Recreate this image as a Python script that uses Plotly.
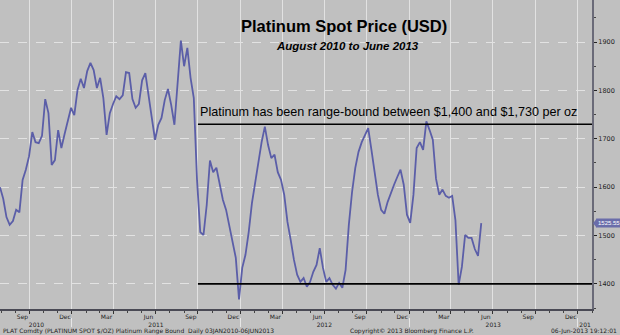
import pandas as pd
import plotly.graph_objects as go

# Weekly platinum spot closes (USD/oz), Thursdays from 29 Jul 2010 to 06 Jun 2013
start_date = "2010-07-29"
weekly_close = [
    1600, 1576, 1538, 1522, 1530, 1553, 1548, 1615, 1636, 1664,
    1714, 1693, 1691, 1706, 1782, 1753, 1646, 1656, 1718, 1681,
    1710, 1735, 1764, 1749, 1801, 1824, 1805, 1840, 1857, 1842,
    1805, 1826, 1784, 1708, 1753, 1772, 1788, 1782, 1790, 1838,
    1836, 1782, 1764, 1772, 1821, 1836, 1784, 1743, 1698, 1729,
    1743, 1780, 1803, 1770, 1729, 1821, 1903, 1850, 1888, 1826,
    1784, 1615, 1507, 1501, 1563, 1655, 1631, 1640, 1605, 1574,
    1553, 1522, 1491, 1454, 1368, 1433, 1460, 1507, 1567, 1609,
    1648, 1693, 1725, 1687, 1660, 1667, 1631, 1615, 1584, 1528,
    1491, 1450, 1419, 1404, 1412, 1394, 1404, 1425, 1439, 1474,
    1433, 1404, 1412, 1398, 1390, 1402, 1392, 1429, 1522, 1590,
    1640, 1673, 1693, 1706, 1722, 1677, 1625, 1584, 1553, 1545,
    1569, 1588, 1605, 1621, 1636, 1605, 1543, 1526, 1584, 1681,
    1693, 1677, 1736, 1718, 1698, 1617, 1584, 1595, 1582, 1578,
    1582, 1532, 1398, 1435, 1501, 1495, 1495, 1472, 1458, 1525.55,
]
dates = pd.date_range(start=start_date, periods=len(weekly_close), freq="7D")
last_price = weekly_close[-1]

# Trading range bounds
range_levels = [1400, 1730]
range_start = "2011-10-01"

# Axis windows
x_start, x_end = "2010-07-29", "2014-02-01"
y_min, y_max = 1348, 1987
price_ticks = [1400, 1500, 1600, 1700, 1800, 1900]

quarter_ticks = [
    "2010-10-01", "2011-01-01", "2011-04-01", "2011-07-01", "2011-10-01",
    "2012-01-01", "2012-04-01", "2012-07-01", "2012-10-01", "2013-01-01",
    "2013-04-01", "2013-07-01", "2013-10-01", "2014-01-01",
]
quarter_labels = ["Sep", "Dec", "Mar", "Jun", "Sep", "Dec", "Mar",
                  "Jun", "Sep", "Dec", "Mar", "Jun", "Sep", "Dec"]
year_ticks = ["2010-10-16", "2011-07-02", "2012-07-01", "2013-07-02", "2014-01-17"]
year_labels = ["2010", "2011", "2012", "2013", "201"]
year_breaks = ["2011-01-01", "2012-01-01", "2013-01-01", "2014-01-01"]

W, H = 620, 335
PLOT_W, PLOT_BOTTOM = 592, 309
BG = "#c0c0c0"
GRID = "#e2e2e2"
LINE = "#5b5ea8"
SANS = "Liberation Sans, Arial"
SMALL = "DejaVu Sans, Tahoma, Verdana"
TAG = "#6a6daa"


def px_x(x):
    return x / PLOT_W


def px_y(y):
    return 1 - y / H


fig = go.Figure()

fig.add_trace(go.Scatter(
    x=dates, y=weekly_close, mode="lines",
    line=dict(color=LINE, width=1.8), showlegend=False,
))

# helper traces so the overlay axes are drawn
for ax in ("x2", "x3"):
    fig.add_trace(go.Scatter(
        x=[x_start, x_end], y=[y_min, y_min], xaxis=ax, mode="lines",
        line=dict(width=0), opacity=0, hoverinfo="skip", showlegend=False,
    ))

for lvl in range_levels:
    fig.add_shape(type="line", xref="x", yref="y", x0=range_start, x1=x_end,
                  y0=lvl, y1=lvl, line=dict(color="black", width=1.6))

annotations = [
    dict(text="<b>Platinum Spot Price (USD)</b>", x=px_x(344), y=px_y(26),
         font=dict(family=SANS, size=16.5, color="black")),
    dict(text="<b><i>August 2010 to June 2013</i></b>", x=px_x(347), y=px_y(46),
         font=dict(family=SANS, size=11.5, color="black")),
    dict(text="Platinum has been range-bound between $1,400 and $1,730 per oz",
         x=px_x(198), y=px_y(112), xanchor="left",
         font=dict(family=SANS, size=12.6, color="black")),
    dict(text="PLAT Comdty (PLATINUM SPOT $/OZ) Platinum Range Bound\u00a0\u00a0Daily 03JAN2010-06JUN2013",
         x=px_x(1), y=px_y(331), xanchor="left",
         font=dict(family=SMALL, size=6, color="#222")),
    dict(text="Copyright\u00a9 2013 Bloomberg Finance L.P.", x=px_x(412), y=px_y(331),
         font=dict(family=SMALL, size=6, color="#222")),
    dict(text="06-Jun-2013 19:12:01", x=px_x(619), y=px_y(331), xanchor="right",
         font=dict(family=SMALL, size=6, color="#222")),
    dict(text=f"{last_price:.2f}",
         xref="paper", yref="y", x=px_x(596), y=last_price, xanchor="left",
         bgcolor=TAG, borderpad=1,
         font=dict(family=SANS, size=6, color="white")),
]
for a in annotations:
    a.setdefault("xref", "paper")
    a.setdefault("yref", "paper")
    a.setdefault("xanchor", "center")
    a["yanchor"] = "middle"
    a["showarrow"] = False
    fig.add_annotation(**a)

# pointer on the last-price tag
fig.add_shape(type="path", xref="paper", yref="y",
              path=f"M {px_x(593)},{last_price} L {px_x(597)},{last_price + 10} "
                   f"L {px_x(597)},{last_price - 10} Z",
              fillcolor=TAG, line=dict(width=0))

fig.update_layout(
    width=W, height=H,
    margin=dict(l=0, r=W - PLOT_W, t=0, b=0),
    paper_bgcolor=BG, plot_bgcolor=BG,
    showlegend=False,
    xaxis=dict(
        type="date", range=[x_start, x_end], domain=[0, 1],
        tickvals=quarter_ticks, ticktext=quarter_labels, ticklabelshift=-7,
        ticklabelstandoff=-2,
        ticks="outside", ticklen=3, tickcolor="#333", tickwidth=1,
        tickfont=dict(family=SMALL, size=6, color="#222"),
        showgrid=True, gridcolor=GRID, gridwidth=1,
        showline=True, linecolor="#4a4a55", linewidth=1.5,
        minor=dict(dtick="M1", tick0="2010-08-01", ticks="outside",
                   ticklen=2, tickcolor="#444", showgrid=False),
        zeroline=False,
    ),
    xaxis2=dict(
        type="date", range=[x_start, x_end], overlaying="x", anchor="free",
        position=px_y(319.5), side="bottom",
        tickvals=year_ticks, ticktext=year_labels, ticks="",
        tickfont=dict(family=SMALL, size=6, color="#222"),
        showgrid=False, showline=False, zeroline=False,
    ),
    xaxis3=dict(
        type="date", range=[x_start, x_end], overlaying="x", anchor="free",
        position=px_y(317), side="bottom",
        tickvals=year_breaks, showticklabels=False,
        ticks="outside", ticklen=9, tickcolor="#e6e6e6", tickwidth=1,
        showgrid=False, showline=False, zeroline=False,
    ),
    yaxis=dict(
        range=[y_min, y_max], domain=[1 - PLOT_BOTTOM / H, 1], side="right",
        tickvals=price_ticks, ticks="outside", ticklen=3, tickcolor="#222",
        tickfont=dict(family=SMALL, size=6.5, color="#222"),
        showgrid=True, gridcolor=GRID, gridwidth=1, griddash="dash",
        showline=True, linecolor="#6a6a78", linewidth=2,
        minor=dict(dtick=50, ticks="outside", ticklen=2, tickcolor="#444",
                   showgrid=False),
        zeroline=False,
    ),
)

fig.write_html("out.html")
